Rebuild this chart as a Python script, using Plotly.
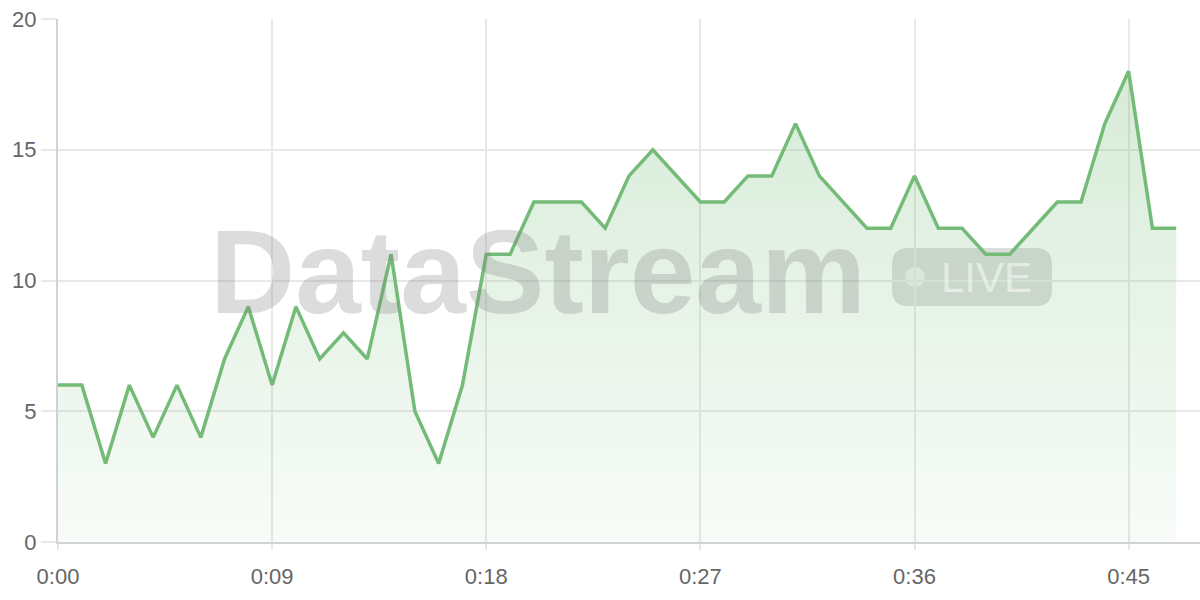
import plotly.graph_objects as go

seconds = list(range(48))
values = [6, 6, 3, 6, 4, 6, 4, 7, 9, 6, 9, 7, 8, 7, 11, 5, 3, 6, 11, 11,
          13, 13, 13, 12, 14, 15, 14, 13, 13, 14, 14, 16, 14, 13, 12, 12, 14, 12, 12, 11,
          11, 12, 13, 13, 16, 18, 12, 12]
xtick_vals = [0, 9, 18, 27, 36, 45]
xtick_text = ["0:00", "0:09", "0:18", "0:27", "0:36", "0:45"]
ytick_vals = [0, 5, 10, 15, 20]

W, H = 1200, 600
L, R, T, B = 58, 0, 19, 58
PW, PH = W - L - R, H - T - B


def px(x):
    return (x - L) / PW


def py(y):
    return (H - B - y) / PH


fig = go.Figure()
fig.add_trace(go.Scatter(
    x=seconds, y=values, mode="lines",
    line=dict(color="#74bb78", width=3.5),
    fill="tozeroy",
    fillgradient=dict(type="vertical", start=0, stop=20,
                      colorscale=[[0, "rgba(116,187,120,0.05)"], [1, "rgba(116,187,120,0.32)"]]),
    hoverinfo="skip",
))

# badge rounded rectangle
x0, x1, y0, y1, r = 892, 1052, 248, 306, 16
rx, ry = r / PW, r / PH
X0, X1, Y0, Y1 = px(x0), px(x1), py(y1), py(y0)
path = (f"M {X0+rx},{Y0} L {X1-rx},{Y0} Q {X1},{Y0} {X1},{Y0+ry} "
        f"L {X1},{Y1-ry} Q {X1},{Y1} {X1-rx},{Y1} L {X0+rx},{Y1} "
        f"Q {X0},{Y1} {X0},{Y1-ry} L {X0},{Y0+ry} Q {X0},{Y0} {X0+rx},{Y0} Z")
shapes = [
    dict(type="path", path=path, xref="paper", yref="paper", layer="below",
         fillcolor="rgba(128,128,128,0.27)", line=dict(width=0)),
    dict(type="circle", xref="paper", yref="paper", layer="below",
         x0=px(905), x1=px(925), y0=py(287), y1=py(267),
         fillcolor="rgba(255,255,255,0.6)", line=dict(width=0)),
]

annotations = [
    dict(text="<b>DataStream</b>", xref="paper", yref="paper", x=px(538), y=py(272),
         showarrow=False, xanchor="center", yanchor="middle",
         font=dict(family="Liberation Sans, Arial", size=118, color="rgba(128,128,128,0.28)")),
    dict(text="LIVE", xref="paper", yref="paper", x=px(986), y=py(277),
         showarrow=False, xanchor="center", yanchor="middle",
         font=dict(family="Liberation Sans, Arial", size=42, color="rgba(255,255,255,0.5)")),
]

fig.update_layout(
    width=W, height=H,
    margin=dict(l=L, r=R, t=T, b=B, autoexpand=False),
    paper_bgcolor="white", plot_bgcolor="white",
    showlegend=False,
    shapes=shapes, annotations=annotations,
    font=dict(family="Liberation Sans, Arial", size=22, color="#666666"),
    xaxis=dict(range=[0, 48], tickvals=xtick_vals, ticktext=xtick_text,
               showgrid=True, gridcolor="#e8e8e8", gridwidth=1.5,
               showline=True, linecolor="#d2d2d2", linewidth=2,
               ticks="outside", ticklen=6, tickcolor="#e8e8e8", tickwidth=1.5,
               ticklabelstandoff=8,
               zeroline=False, fixedrange=True),
    yaxis=dict(range=[0, 20], tickvals=ytick_vals,
               showgrid=True, gridcolor="#e8e8e8", gridwidth=1.5,
               showline=True, linecolor="#d2d2d2", linewidth=2,
               ticks="outside", ticklen=15, tickcolor="#e8e8e8", tickwidth=1.5,
               zeroline=False, fixedrange=True),
)

fig.write_html("out.html", config={"displayModeBar": False},
               post_script="document.body.style.margin='0';document.body.style.overflow='hidden';")
